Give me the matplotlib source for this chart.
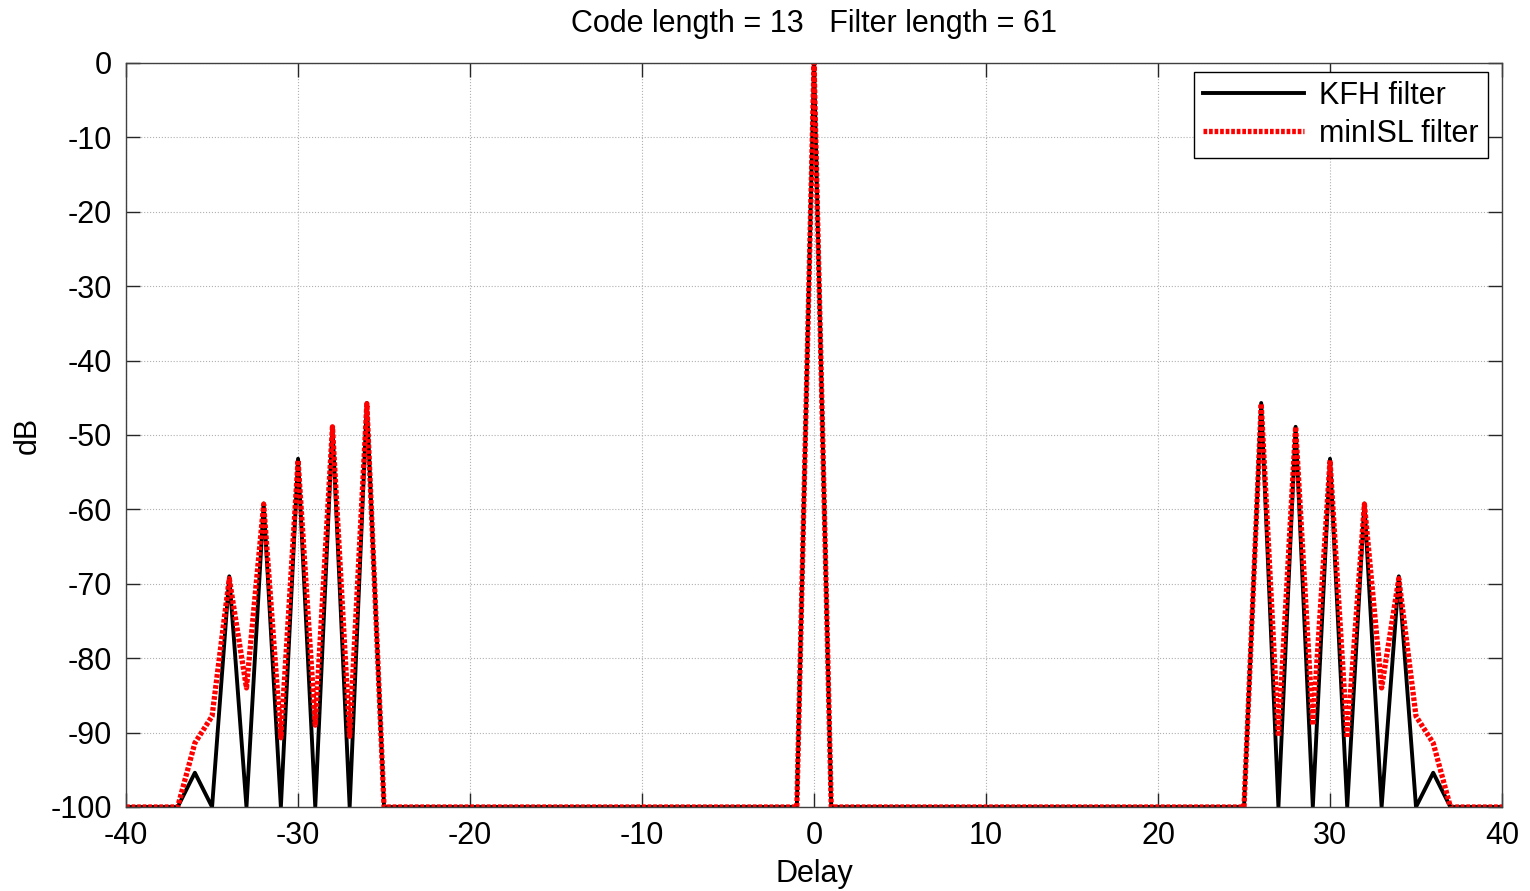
import numpy as np
import matplotlib.pyplot as plt

plt.rcParams['font.family'] = ['Liberation Sans', 'DejaVu Sans']
plt.rcParams['axes.unicode_minus'] = False

# delays and sidelobe levels (dB), floor at -100
delay = np.arange(-40, 41)
floor_db = -100.0

# KFH filter: nonzero levels per delay
kfh_pts = {-36: -95.4, -34: -69.0, -32: -59.2, -30: -53.2, -28: -48.9, -26: -45.7,
           0: 0.0,
           26: -45.7, 28: -48.9, 30: -53.2, 32: -59.2, 34: -69.0, 36: -95.4}

# minISL filter
isl_pts = {-36: -91.4, -35: -87.8, -34: -69.3, -33: -84.0, -32: -59.3, -31: -90.7,
           -30: -53.4, -29: -89.0, -28: -48.9, -27: -90.5, -26: -45.8,
           0: 0.0,
           26: -45.8, 27: -90.5, 28: -48.9, 29: -89.0, 30: -53.4, 31: -90.7,
           32: -59.3, 33: -84.0, 34: -69.3, 35: -87.8, 36: -91.4}

kfh = np.array([kfh_pts.get(d, floor_db) for d in delay])
isl = np.array([isl_pts.get(d, floor_db) for d in delay])

fig = plt.figure(figsize=(15.3, 8.91), dpi=100)
ax = fig.add_axes([0.0824, 0.0943, 0.8993, 0.835])

ax.plot(delay, kfh, color='black', lw=2.8, label='KFH filter')
ax.plot(delay, isl, color='red', lw=3.8, dashes=(0.7, 0.35), label='minISL filter')

ax.set_xlim(-40, 40)
ax.set_ylim(-100, 0)
ax.set_xticks(np.arange(-40, 41, 10))
ax.set_yticks(np.arange(-100, 1, 10))
ax.grid(True, color='#b0b0b0', linestyle=':', lw=0.8)
ax.tick_params(direction='in', length=10, width=1, top=True, right=True,
               labelsize=22, colors='#262626', labelcolor='black', pad=10)
for s in ax.spines.values():
    s.set_color('#404040')
    s.set_linewidth(1)

ax.set_xlabel('Delay', fontsize=22, labelpad=6)
ax.set_ylabel('dB', fontsize=22, labelpad=6)
ax.set_title('Code length = 13   Filter length = 61', fontsize=22, pad=22)

leg = ax.legend(loc='upper right', bbox_to_anchor=(0.9898, 0.9879), fontsize=22,
                handlelength=3.3, fancybox=False, framealpha=1, edgecolor='black',
                borderaxespad=0, borderpad=0.3, labelspacing=0.25, handletextpad=0.5)
leg.get_frame().set_linewidth(1)

fig.savefig('out.png', dpi=100)
